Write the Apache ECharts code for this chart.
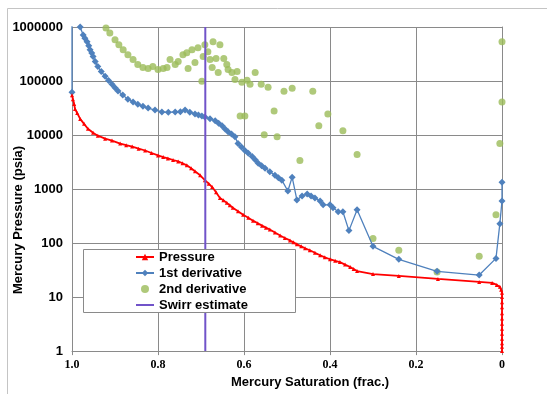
<!DOCTYPE html>
<html>
<head>
<meta charset="utf-8">
<script src="https://cdn.jsdelivr.net/npm/echarts@6/dist/echarts.min.js"></script>
<style>
html,body{margin:0;padding:0;background:#fff;}
#chart{width:547px;height:394px;}
</style>
</head>
<body>
<div id="chart"></div>
<script>
// Mercury saturation (frac.) vs mercury pressure (psia)
var pressure = [
  [1.0,54700],[0.998,46200],[0.995,37400],[0.993,30300],[0.988,25600],[0.981,19900],
  [0.972,16100],[0.963,13100],[0.951,11000],[0.940,9730],[0.923,8570],[0.907,7880],
  [0.888,6950],[0.874,6500],[0.860,6120],[0.845,5600],[0.830,5170],[0.815,4650],
  [0.800,4190],[0.788,3900],[0.777,3690],[0.765,3450],[0.753,3250],[0.743,3000],
  [0.733,2750],[0.723,2420],[0.714,2130],[0.702,1800],[0.691,1460],[0.682,1260],
  [0.674,1090],[0.665,870],[0.656,685],[0.648,620],[0.640,555],[0.633,500],[0.626,450],
  [0.614,390],[0.602,335],[0.590,295],[0.579,260],[0.568,232],[0.558,210],[0.549,193],
  [0.540,178],[0.528,157],[0.516,138],[0.505,124],[0.493,112],[0.485,103],[0.477,94.6],
  [0.467,87],[0.458,80],[0.447,73.5],[0.435,66],[0.423,59.6],[0.412,54.5],[0.400,50.2],
  [0.388,47],[0.377,44.4],[0.365,40],[0.353,35.9],[0.345,33],[0.337,30.3],[0.300,26.7],
  [0.240,24.6],[0.149,21.7],[0.053,19.1],[0.023,18.3],[0.012,16.8],[0.005,15.5],
  [0.002,13.6],[0,12],[0,10],[0,8],[0,6.5],[0,5],[0,4],[0,3.2],[0,2.6],[0,2.1],
  [0,1.7],[0,1.4],[0,1.2],[0,1]
];
var deriv1 = [
  [1.0,62000],[1.0,3000000],[0.981,1000000],[0.974,714000],[0.970,620000],[0.965,532000],
  [0.961,450000],[0.958,380000],[0.954,330000],[0.951,283000],[0.946,230000],[0.940,185000],
  [0.932,150000],[0.923,122000],[0.915,102000],[0.907,87000],[0.900,75000],[0.893,65000],
  [0.882,55000],[0.870,46000],[0.858,41000],[0.847,37000],[0.835,34000],[0.823,31600],
  [0.807,29000],[0.791,26700],[0.776,26500],[0.760,26700],[0.748,27000],[0.737,29100],
  [0.726,26500],[0.714,24500],[0.706,23500],[0.698,22600],[0.691,21600],[0.679,20000],
  [0.667,18300],[0.659,16500],[0.651,14800],[0.644,13000],[0.637,11500],[0.629,10400],
  [0.621,9300],[0.614,6950],[0.606,6000],[0.598,5170],[0.590,4600],[0.581,4020],
  [0.574,3500],[0.567,2990],[0.559,2700],[0.551,2420],[0.540,2100],[0.528,1800],
  [0.520,1620],[0.512,1460],[0.498,920],[0.488,1660],[0.477,630],[0.465,745],[0.453,810],
  [0.444,740],[0.435,685],[0.423,600],[0.416,510],[0.400,510],[0.393,450],[0.381,380],
  [0.370,380],[0.356,170],[0.337,413],[0.300,87],[0.240,50],[0.151,30],[0.053,25.6],
  [0.014,52],[0.005,229],[0.0,600],[0.0,1340]
];
var deriv2 = [
  [0.921,959000],[0.912,777000],[0.900,578000],[0.891,469000],[0.881,380000],[0.870,307000],
  [0.858,249000],[0.847,202000],[0.835,178000],[0.823,171000],[0.812,185000],[0.800,163000],
  [0.788,171000],[0.779,178000],[0.772,249000],[0.760,202000],[0.753,229000],[0.742,307000],
  [0.733,334000],[0.730,171000],[0.721,380000],[0.714,220000],[0.707,413000],[0.698,98600],
  [0.695,283000],[0.691,469000],[0.684,349000],[0.679,249000],[0.674,178000],[0.672,532000],
  [0.665,260000],[0.660,144000],[0.656,469000],[0.647,260000],[0.640,202000],[0.637,163000],
  [0.628,144000],[0.621,107000],[0.616,150000],[0.609,22600],[0.605,94600],[0.598,22600],
  [0.593,103000],[0.586,87000],[0.574,144000],[0.560,87000],[0.553,10100],[0.544,76600],
  [0.530,27900],[0.523,9330],[0.507,64700],[0.488,73400],[0.470,3390],[0.440,64700],
  [0.426,14800],[0.405,24500],[0.370,12000],[0.337,4370],[0.300,122],[0.240,73.5],
  [0.151,29],[0.053,57],[0.014,335],[0.005,6950],[0.0,40700],[0.0,532000]
];
var swirr = [[0.69,1],[0.69,1000000]];
var xTickLabels = ['0','0.2','0.4','0.6','0.8','1.0'];

var chart = echarts.init(document.getElementById('chart'));

var option = {
  animation: false,
  backgroundColor: '#fff',
  grid: { left: 72, top: 27, right: 45, bottom: 39 },
  graphic: [
    { type: 'rect', z: 0, shape: { x: 7.5, y: 8.5, width: 600, height: 500 },
      style: { fill: null, stroke: '#c4c4c4', lineWidth: 1 } },
    { type: 'rect', z: 50, shape: { x: 83.5, y: 249.5, width: 212, height: 63 },
      style: { fill: '#fff', stroke: '#8a8a8a', lineWidth: 1 } },
    { type: 'text', z: 50, x: 18, y: 220, rotation: Math.PI / 2,
      style: { text: 'Mercury Pressure (psia)', font: 'bold 13px "Liberation Sans", Arial',
        fill: '#000', align: 'center', verticalAlign: 'middle' } }
  ],
  legend: {
    z: 60,
    orient: 'vertical',
    left: 83, top: 249,
    padding: [0, 0, 0, 52],
    itemGap: 0,
    itemWidth: 18,
    itemHeight: 8,
    textStyle: { fontSize: 13, fontWeight: 'bold', fontFamily: '"Liberation Sans", Arial', color: '#000', lineHeight: 16 },
    data: ['Pressure', '1st derivative', '2nd derivative',
      { name: 'Swirr estimate', itemStyle: { opacity: 0 } }]
  },
  xAxis: {
    type: 'value', min: 0, max: 1, interval: 0.2, inverse: true,
    name: 'Mercury Saturation (frac.)', nameLocation: 'middle', nameGap: 23,
    nameTextStyle: { fontSize: 13, fontWeight: 'bold', fontFamily: '"Liberation Sans", Arial', color: '#000', padding: [0, 0, 0, 46] },
    axisLine: { lineStyle: { color: '#8a8a8a' } },
    axisTick: { show: true, length: 4, lineStyle: { color: '#8a8a8a' } },
    axisLabel: { margin: 8, fontSize: 12, fontWeight: 'bold', fontFamily: '"Liberation Serif", serif', color: '#000',
      formatter: function (v) { return xTickLabels[Math.round(v * 5)]; } },
    splitLine: { show: true, lineStyle: { color: '#8a8a8a', width: 1 } }
  },
  yAxis: {
    type: 'log', logBase: 10, min: 1, max: 1000000,
    axisLine: { show: true, lineStyle: { color: '#8a8a8a' } },
    axisTick: { show: true, length: 4, lineStyle: { color: '#8a8a8a' } },
    axisLabel: { margin: 9, fontSize: 13, fontWeight: 'bold', fontFamily: '"Liberation Sans", Arial', color: '#000',
      formatter: function (v) { return String(Math.round(v)); } },
    splitLine: { show: true, lineStyle: { color: '#8a8a8a', width: 1 } }
  },
  series: [
    {
      name: 'Pressure', type: 'line', data: pressure, z: 4,
      showAllSymbol: true, symbol: 'triangle', symbolSize: 4,
      itemStyle: { color: '#ff0000' },
      lineStyle: { color: '#ff0000', width: 1.8 }
    },
    {
      name: '1st derivative', type: 'line', data: deriv1, z: 3,
      showAllSymbol: true, symbol: 'diamond', symbolSize: 7,
      itemStyle: { color: '#4f81bd' },
      lineStyle: { color: '#4f81bd', width: 1.3 }
    },
    {
      name: '2nd derivative', type: 'scatter', data: deriv2, z: 2,
      symbol: 'circle', symbolSize: 7,
      itemStyle: { color: '#9bbb59' }
    },
    {
      name: 'Swirr estimate', type: 'line', data: swirr, z: 5,
      symbol: 'none',
      itemStyle: { color: '#7153c9' },
      lineStyle: { color: '#7153c9', width: 2 }
    }
  ]
};
chart.setOption(option);
</script>
</body>
</html>
